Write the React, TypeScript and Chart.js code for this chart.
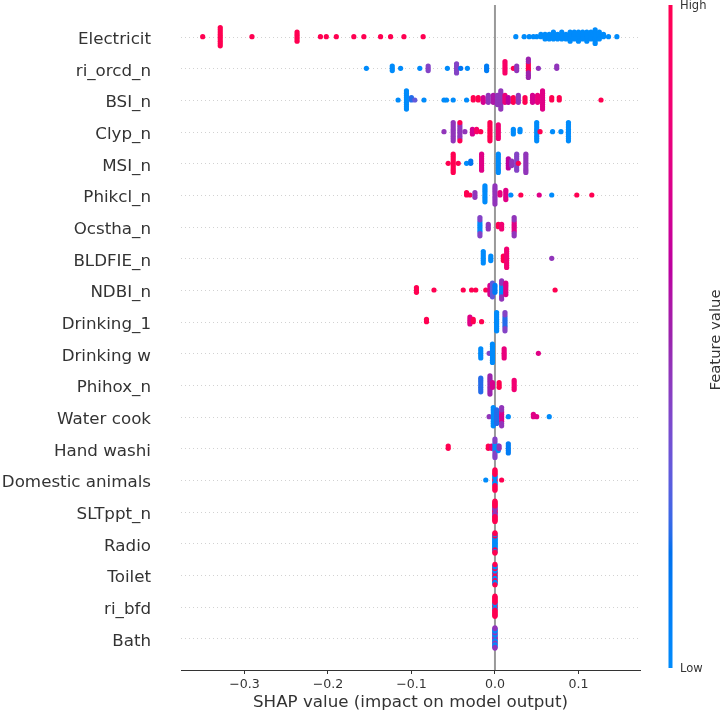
import React, { useEffect, useRef } from 'react';
import { Chart, registerables } from 'chart.js';

Chart.register(...registerables);

// ---------------- data ----------------
// Feature names, top (most important) to bottom
const featureNames = [
  'Electricit', 'ri_orcd_n', 'BSI_n', 'Clyp_n', 'MSI_n', 'Phikcl_n', 'Ocstha_n',
  'BLDFIE_n', 'NDBI_n', 'Drinking_1', 'Drinking w', 'Phihox_n', 'Water cook',
  'Hand washi', 'Domestic animals', 'SLTppt_n', 'Radio', 'Toilet', 'ri_bfd', 'Bath',
];

// Each entry: [SHAP value, feature value level (0 = low, 1 = high), number of samples]
const electricit = [
  [-0.350, 1, 1], [-0.329, 1, 9], [-0.291, 1, 1], [-0.237, 1, 5], [-0.209, 1, 1],
  [-0.202, 1, 1], [-0.190, 1, 1], [-0.169, 1, 1], [-0.157, 1, 1], [-0.137, 1, 1],
  [-0.125, 1, 1], [-0.109, 1, 1], [-0.086, 1, 1],
  [0.025, 0, 1], [0.035, 0, 1], [0.041, 0, 1], [0.046, 0, 1], [0.050, 0, 1],
  [0.055, 0, 2], [0.060, 0, 3], [0.065, 0, 3], [0.070, 0, 4], [0.075, 0, 3],
  [0.080, 0, 4], [0.085, 0, 3], [0.090, 0, 5], [0.095, 0, 4], [0.100, 0, 5],
  [0.105, 0, 4], [0.110, 0, 5], [0.115, 0, 4], [0.120, 0, 7], [0.125, 0, 4],
  [0.130, 0, 2], [0.136, 0, 1], [0.146, 0, 1],
];
const riOrcd = [
  [-0.154, 0, 1], [-0.123, 0, 3], [-0.113, 0, 1], [-0.090, 0, 1], [-0.080, 0.4, 3],
  [-0.057, 0, 1], [-0.046, 0.4, 5], [-0.041, 0.15, 1], [-0.033, 0, 1], [-0.010, 0.1, 3],
  [0.012, 0.9, 6], [0.022, 1, 1], [0.026, 0.45, 3], [0.040, 1, 4], [0.040, 0.5, 5],
  [0.052, 0.45, 1], [0.074, 0.45, 2],
];
const bsi = [
  [-0.116, 0, 1], [-0.106, 0, 9], [-0.100, 0.2, 2], [-0.096, 0.3, 1], [-0.085, 0, 1],
  [-0.061, 0, 1], [-0.058, 0, 1], [-0.050, 0, 1], [-0.034, 0, 1], [-0.026, 1, 2],
  [-0.020, 1, 2], [-0.014, 0.7, 3], [-0.008, 0.45, 4], [-0.002, 0.55, 4], [0.003, 0.45, 5],
  [0.007, 0.45, 9], [0.012, 0.8, 4], [0.016, 0.6, 3], [0.022, 1, 3], [0.028, 0.45, 4],
  [0.036, 1, 3], [0.045, 0.7, 4], [0.051, 0.8, 4], [0.057, 0.75, 9], [0.068, 1, 2],
  [0.077, 1, 2], [0.127, 1, 1],
];
const clyp = [
  [-0.061, 0.45, 1], [-0.050, 0.45, 9], [-0.042, 0.45, 7], [-0.042, 1, 2], [-0.036, 0.45, 1],
  [-0.027, 0.7, 3], [-0.022, 0.9, 2], [-0.017, 1, 1], [-0.006, 1, 9], [0.004, 0.85, 7],
  [0.022, 0, 3], [0.030, 0, 2], [0.050, 0, 9], [0.054, 1, 1], [0.069, 0, 1],
  [0.079, 0, 1], [0.088, 0, 9],
];
const msi = [
  [-0.056, 1, 1], [-0.050, 1, 9], [-0.044, 1, 1], [-0.034, 0, 1], [-0.029, 0.15, 2],
  [-0.016, 0.75, 8], [0.004, 0, 9], [0.016, 0.6, 5], [0.020, 0.45, 3], [0.026, 0.4, 8],
  [0.028, 1, 1], [0.037, 0.45, 9],
];
const phikcl = [
  [-0.034, 1, 2], [-0.030, 1, 1], [-0.024, 0.45, 3], [-0.012, 0, 8], [0.000, 0.45, 9],
  [0.006, 0.8, 2], [0.013, 0.75, 5], [0.019, 0, 1], [0.031, 1, 1], [0.053, 0.75, 1],
  [0.068, 0, 1], [0.098, 1, 1], [0.116, 1, 1],
];
const ocstha = [
  [-0.018, 0, 5], [-0.018, 0.4, 4], [-0.008, 0.45, 3], [0.004, 1, 2], [0.008, 0.85, 3],
  [0.023, 0.75, 5], [0.023, 0.45, 4],
];
const bldfie = [
  [-0.014, 0, 6], [-0.005, 0, 3], [0.010, 1, 3], [0.014, 0.85, 9], [0.068, 0.45, 1],
];
const ndbi = [
  [-0.094, 1, 3], [-0.073, 1, 1], [-0.038, 1, 1], [-0.028, 1, 1], [-0.023, 1, 1],
  [-0.011, 1, 1], [-0.006, 0.7, 5], [-0.003, 0.3, 7], [0.000, 0.1, 4], [0.008, 0, 5],
  [0.008, 0.45, 4], [0.013, 0.75, 6], [0.072, 1, 1],
];
const drinking1 = [
  [-0.082, 1, 2], [-0.030, 0.75, 4], [-0.026, 1, 2], [-0.016, 1, 1], [0.002, 0, 9],
  [0.012, 0.2, 5], [0.012, 0.4, 4],
];
const drinkingW = [
  [-0.017, 0, 5], [-0.007, 0.4, 1], [-0.003, 0, 9], [0.011, 0.8, 5], [0.052, 0.75, 1],
];
const phihox = [
  [-0.017, 0.2, 7], [-0.006, 0.5, 9], [-0.003, 0.7, 3], [0.005, 1, 3], [0.023, 0.85, 5],
];
const waterCook = [
  [-0.007, 0.45, 1], [-0.002, 0, 9], [0.002, 0.2, 7], [0.008, 0.7, 5], [0.008, 0.45, 4],
  [0.016, 0, 1], [0.046, 0.75, 2], [0.050, 0.75, 1], [0.065, 0, 1],
];
const handWashi = [
  [-0.056, 1, 2], [-0.008, 1, 2], [-0.004, 0.8, 2], [0.000, 0, 4], [0.000, 0.4, 5],
  [0.004, 0, 3], [0.005, 0.45, 2], [0.016, 0.1, 5],
];
const domesticAnimals = [
  [-0.011, 0, 1], [0.000, 1, 3], [0.000, 0, 6], [0.000, 1, 10], [0.008, 1, 1],
];
const sltppt = [[0, 1, 4], [0, 0.45, 8], [0, 1, 14]];
const radio = [[0, 0, 16], [0, 1, 4], [0, 0, 2], [0, 1, 4]];
const toilet = [[0, 0, 4], [0, 1, 4], [0, 0, 6], [0, 1, 4], [0, 0, 6], [0, 1, 2]];
const riBfd = [[0, 1, 4], [0, 0, 4], [0, 1, 16]];
const bath = [[0, 0.45, 6], [0, 0, 6], [0, 0.45, 4], [0, 0, 6], [0, 0.45, 4]];

const featureData = [
  electricit, riOrcd, bsi, clyp, msi, phikcl, ocstha, bldfie, ndbi, drinking1,
  drinkingW, phihox, waterCook, handWashi, domesticAnimals, sltppt, radio, toilet, riBfd, bath,
];

const xTickValues = [-0.3, -0.2, -0.1, 0.0, 0.1];
const xAxisTitle = 'SHAP value (impact on model output)';
const colorbarTitle = 'Feature value';
const colorbarLow = 'Low';
const colorbarHigh = 'High';

// ---------------- layout / style ----------------
const W = 724;
const H = 716;
const X_MIN = -0.3760;
const X_MAX = 0.1737;
const FONT = '"DejaVu Sans", "Liberation Sans", sans-serif';
const AXIS_COLOR = '#333333';

// SHAP red_blue colormap (interpolated in LCH space)
function lchToRgb(L: number, C: number, h: number): [number, number, number] {
  const a = C * Math.cos(h);
  const b = C * Math.sin(h);
  const fy = (L + 16) / 116;
  const fx = a / 500 + fy;
  const fz = fy - b / 200;
  const inv = (f: number) => (f > 0.2068966 ? f * f * f : (f - 16 / 116) / 7.787);
  const X = inv(fx) * 0.95047;
  const Y = inv(fy);
  const Z = inv(fz) * 1.08883;
  const r = 3.24048134 * X - 1.53715152 * Y - 0.49853633 * Z;
  const g = -0.96925495 * X + 1.87599 * Y + 0.04155593 * Z;
  const bl = 0.05564664 * X - 0.20404134 * Y + 1.05731107 * Z;
  const gam = (c: number) => {
    const v = c > 0.0031308 ? 1.055 * Math.pow(c, 1 / 2.4) - 0.055 : 12.92 * c;
    return Math.round(Math.min(1, Math.max(0, v)) * 255);
  };
  return [gam(r), gam(g), gam(bl)];
}
function redBlue(t: number): string {
  const tt = Math.min(1, Math.max(0, t));
  const L = tt < 0.5 ? 54 + (40 - 54) * (tt / 0.5) : 40 + (54 - 40) * ((tt - 0.5) / 0.5);
  const C = 70 + (90 - 70) * tt;
  const h = 4.6588 + (0.35470565 + 2 * Math.PI - 4.6588) * tt;
  const [r, g, b] = lchToRgb(L, C, h);
  return `rgb(${r},${g},${b})`;
}

// SHAP beeswarm vertical layout (binning of values within a row)
function beeswarm(entries: number[][]) {
  const pts: { v: number; c: number }[] = [];
  for (const [v, c, n] of entries) for (let k = 0; k < n; k++) pts.push({ v, c });
  const vals = pts.map((p) => p.v);
  const mn = Math.min(...vals);
  const mx = Math.max(...vals);
  const nbins = 100;
  const quant = pts.map((p) => Math.round((nbins * (p.v - mn)) / (mx - mn + 1e-8)));
  const order = pts.map((_, i) => i).sort((a, b) => quant[a] - quant[b] || a - b);
  const ys = new Array(pts.length).fill(0);
  let layer = 0;
  let last = -1;
  for (const i of order) {
    if (quant[i] !== last) layer = 0;
    ys[i] = Math.ceil(layer / 2) * ((layer % 2) * 2 - 1);
    layer++;
    last = quant[i];
  }
  const maxY = Math.max(...ys.map((y) => y + 1));
  const scale = (0.9 * 0.4) / maxY;
  return pts.map((p, i) => ({ x: p.v, dy: ys[i] * scale, c: p.c }));
}

const shapDecor = {
  id: 'shapDecor',
  beforeDatasetsDraw(chart: any) {
    const { ctx, chartArea, scales } = chart;
    const xs = scales.x;
    const ysc = scales.y;
    ctx.save();
    ctx.strokeStyle = '#d2d2d2';
    ctx.lineWidth = 1;
    ctx.setLineDash([1, 3]);
    for (let i = 0; i < featureNames.length; i++) {
      const py = Math.round(ysc.getPixelForValue(i)) + 0.5;
      ctx.beginPath();
      ctx.moveTo(chartArea.left, py);
      ctx.lineTo(chartArea.right, py);
      ctx.stroke();
    }
    ctx.setLineDash([]);
    ctx.strokeStyle = '#999999';
    ctx.lineWidth = 2;
    const px = xs.getPixelForValue(0);
    ctx.beginPath();
    ctx.moveTo(px, chartArea.top);
    ctx.lineTo(px, chartArea.bottom);
    ctx.stroke();
    ctx.restore();
  },
  afterDraw(chart: any) {
    const { ctx } = chart;
    const cbLeft = 668.5;
    const cbWidth = 4;
    const cbTop = 5;
    const cbBottom = 668;
    ctx.save();
    const grad = ctx.createLinearGradient(0, cbBottom, 0, cbTop);
    for (let i = 0; i <= 40; i++) grad.addColorStop(i / 40, redBlue(i / 40));
    ctx.fillStyle = grad;
    ctx.fillRect(cbLeft, cbTop, cbWidth, cbBottom - cbTop);
    ctx.fillStyle = AXIS_COLOR;
    ctx.font = `11.5px ${FONT}`;
    ctx.textAlign = 'left';
    ctx.textBaseline = 'middle';
    ctx.fillText(colorbarHigh, 680, cbTop + 1);
    ctx.fillText(colorbarLow, 680, cbBottom + 1);
    ctx.translate(716, 340);
    ctx.rotate(-Math.PI / 2);
    ctx.textAlign = 'center';
    ctx.font = `14.8px ${FONT}`;
    ctx.fillText(colorbarTitle, 0, 0);
    ctx.restore();
  },
};

export default function App() {
  const canvasRef = useRef<HTMLCanvasElement | null>(null);

  useEffect(() => {
    const canvas = canvasRef.current;
    if (!canvas) return;
    const nRows = featureNames.length;
    const datasets = featureData.map((entries, i) => {
      const row = nRows - 1 - i;
      const pts = beeswarm(entries);
      return {
        label: featureNames[i],
        data: pts.map((p) => ({ x: p.x, y: row + p.dy })),
        pointBackgroundColor: pts.map((p) => redBlue(p.c)),
        pointBorderWidth: 0,
        pointRadius: 2.6,
        pointHoverRadius: 2.6,
        showLine: false,
      };
    });

    const chart = new Chart(canvas, {
      type: 'scatter',
      data: { datasets } as any,
      options: {
        animation: false,
        responsive: false,
        devicePixelRatio: 1,
        events: [],
        layout: { padding: { top: 5, right: W - 640, left: 0, bottom: 0 } },
        plugins: {
          legend: { display: false },
          tooltip: { enabled: false },
        },
        scales: {
          x: {
            type: 'linear',
            min: X_MIN,
            max: X_MAX,
            afterBuildTicks: (s: any) => {
              s.ticks = xTickValues.map((v) => ({ value: v }));
            },
            afterFit: (s: any) => {
              s.height = 46;
              s.paddingLeft = 0;
              s.paddingRight = 0;
            },
            ticks: {
              color: AXIS_COLOR,
              font: { family: FONT, size: 12.6 },
              padding: 3,
              maxRotation: 0,
              callback: (v: any) => {
                const n = Number(v);
                if (Math.abs(n) < 1e-9) return '0.0';
                return (n < 0 ? '\u2212' : '') + Math.abs(n).toFixed(1);
              },
            },
            grid: {
              display: true,
              drawOnChartArea: false,
              drawTicks: true,
              tickLength: 4,
              tickColor: AXIS_COLOR,
              color: AXIS_COLOR,
            },
            border: { display: true, color: AXIS_COLOR, width: 1 },
            title: {
              display: true,
              text: xAxisTitle,
              color: AXIS_COLOR,
              font: { family: FONT, size: 16.7 },
              padding: { top: 0, bottom: 3 },
            },
          },
          y: {
            type: 'linear',
            min: -1,
            max: nRows,
            afterBuildTicks: (s: any) => {
              s.ticks = featureNames.map((_, i) => ({ value: i }));
            },
            afterFit: (s: any) => {
              s.width = 181;
              s.paddingTop = 0;
              s.paddingBottom = 0;
            },
            ticks: {
              color: AXIS_COLOR,
              font: { family: FONT, size: 16.7 },
              padding: 30,
              labelOffset: 3,
              autoSkip: false,
              callback: (v: any) => featureNames[nRows - 1 - Number(v)] ?? '',
            },
            grid: { display: false, drawTicks: false },
            border: { display: false },
          },
        },
      } as any,
      plugins: [shapDecor],
    });

    return () => chart.destroy();
  }, []);

  return (
    <div style={{ position: 'absolute', left: 0, top: 0, width: W, height: H, background: '#ffffff' }}>
      <canvas ref={canvasRef} width={W} height={H} style={{ display: 'block', width: W, height: H }} />
    </div>
  );
}
